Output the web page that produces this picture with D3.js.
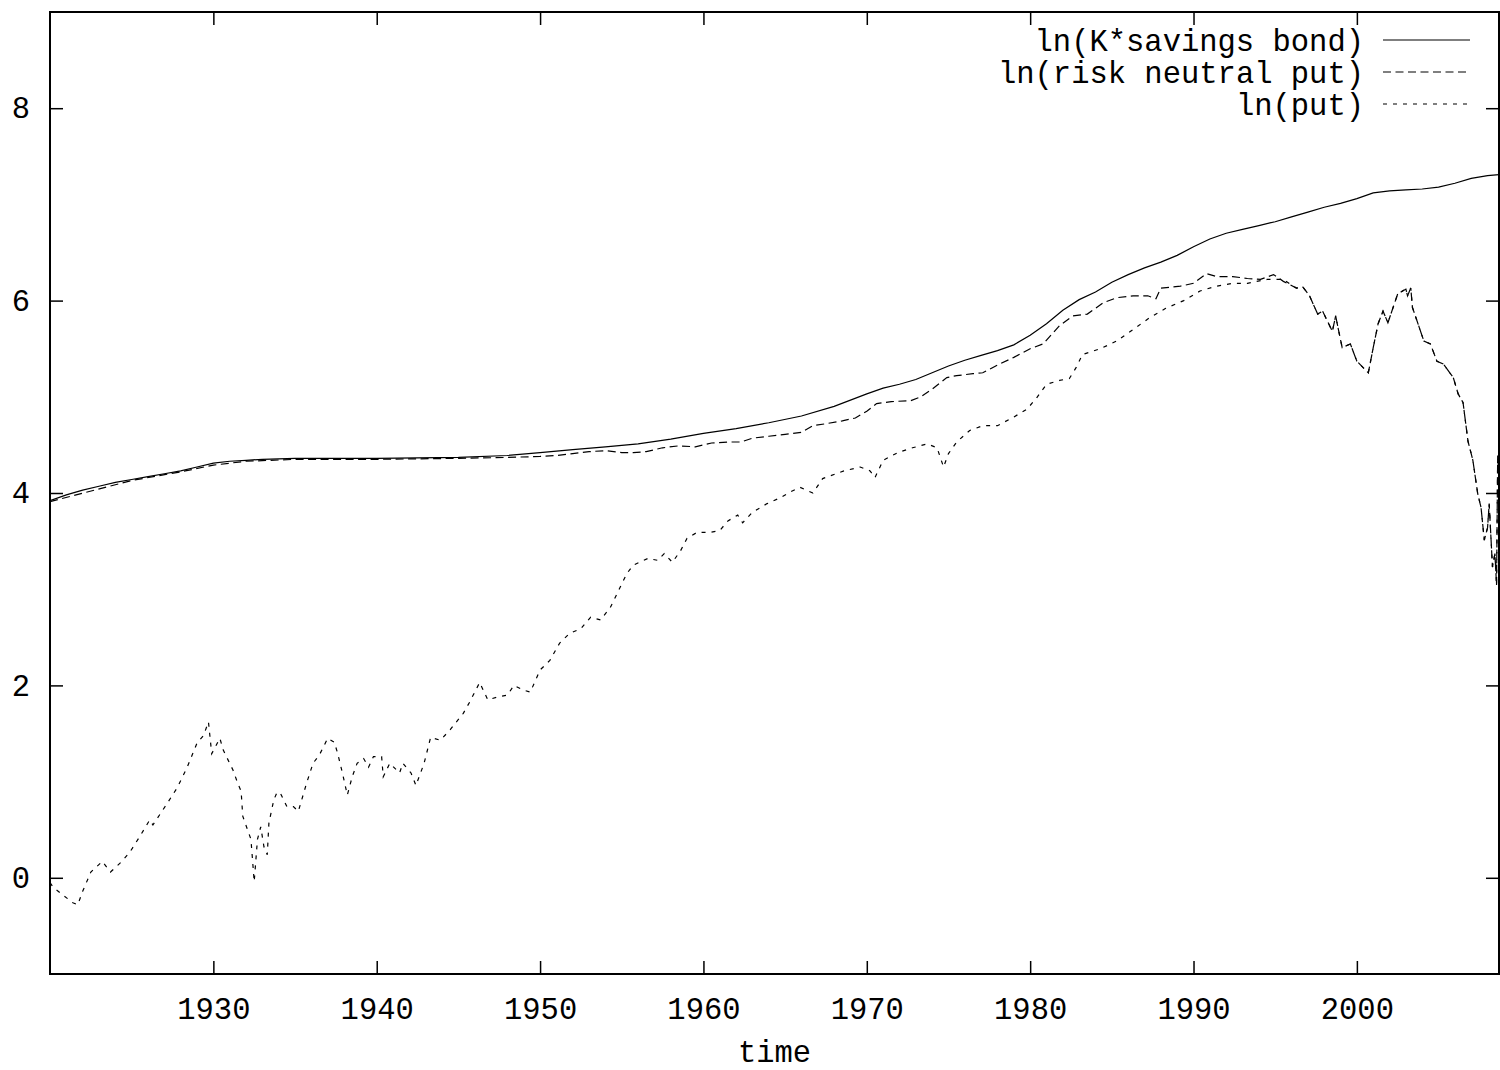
<!DOCTYPE html>
<html>
<head>
<meta charset="utf-8">
<script src="https://cdn.jsdelivr.net/npm/d3@7"></script>
<style>
  html, body { margin: 0; padding: 0; background: #fff; }
  svg { display: block; }
  text { font-family: "Liberation Mono", "DejaVu Sans Mono", monospace; fill: #000; }
</style>
</head>
<body>
<svg id="chart" width="1500" height="1070"></svg>
<script>
// ln(K * savings bond)
const bondYears = [1920.0, 1921, 1922, 1923, 1924, 1925, 1926, 1927, 1928, 1929, 1930, 1931, 1932, 1933, 1935, 1940, 1945, 1948, 1950, 1952, 1954, 1956, 1958, 1960, 1962, 1964, 1966, 1968, 1970, 1971, 1972, 1973, 1974, 1975, 1976, 1977, 1978, 1979, 1980, 1981, 1982, 1983, 1984, 1985, 1986, 1987, 1988, 1989, 1990, 1991, 1992, 1993, 1994, 1995, 1996, 1997, 1998, 1999, 2000, 2001, 2002, 2003, 2004, 2005, 2006, 2007, 2008, 2008.7];
const bondLn    = [3.92, 3.98, 4.03, 4.07, 4.11, 4.14, 4.17, 4.20, 4.23, 4.27, 4.31, 4.33, 4.34, 4.35, 4.36, 4.36, 4.37, 4.39, 4.42, 4.45, 4.48, 4.51, 4.56, 4.62, 4.67, 4.73, 4.80, 4.90, 5.03, 5.09, 5.13, 5.18, 5.25, 5.32, 5.38, 5.43, 5.48, 5.54, 5.64, 5.76, 5.90, 6.01, 6.09, 6.19, 6.27, 6.34, 6.40, 6.47, 6.56, 6.64, 6.70, 6.74, 6.78, 6.82, 6.87, 6.92, 6.97, 7.01, 7.06, 7.12, 7.14, 7.15, 7.16, 7.18, 7.22, 7.27, 7.30, 7.31];

// ln(risk neutral put), up to mid-1995
const rnYears = [1920.0, 1925, 1928, 1930, 1932, 1935, 1940, 1945, 1948, 1950, 1951, 1952, 1953, 1954, 1955, 1955.7, 1956.5, 1957.5, 1958.5, 1959.5, 1960.5, 1961.5, 1962.3, 1963, 1964, 1965, 1966, 1966.7, 1967.5, 1968.5, 1969.3, 1970, 1970.6, 1971.5, 1972.7, 1973.3, 1974, 1974.9, 1975.5, 1976.5, 1977.1, 1978, 1979, 1980, 1980.8, 1981.8, 1982.6, 1983.5, 1984.5, 1985.3, 1986.3, 1987.2, 1987.7, 1988.0, 1989.2, 1990.0, 1990.8, 1991.4, 1992.4, 1993.3, 1994.1, 1994.9, 1995.5];
const rnLn    = [3.91, 4.13, 4.22, 4.29, 4.33, 4.35, 4.35, 4.36, 4.37, 4.38, 4.39, 4.41, 4.43, 4.44, 4.42, 4.42, 4.43, 4.47, 4.49, 4.48, 4.52, 4.53, 4.53, 4.57, 4.59, 4.61, 4.63, 4.70, 4.72, 4.75, 4.78, 4.85, 4.93, 4.95, 4.96, 5.00, 5.08, 5.20, 5.22, 5.24, 5.25, 5.33, 5.41, 5.50, 5.55, 5.74, 5.84, 5.86, 5.98, 6.03, 6.05, 6.05, 6.02, 6.13, 6.15, 6.18, 6.28, 6.25, 6.25, 6.23, 6.22, 6.27, 6.20];

// ln(put), up to mid-1995
const putYears = [1920.0, 1920.2, 1920.8, 1921.4, 1921.7, 1922.0, 1922.5, 1923.2, 1923.7, 1924.4, 1924.9, 1925.5, 1926.1, 1926.3, 1927.2, 1927.8, 1928.4, 1929.0, 1929.4, 1929.7, 1929.9, 1930.4, 1930.6, 1931.2, 1931.5, 1931.7, 1931.8, 1932.3, 1932.5, 1932.7, 1932.9, 1933.1, 1933.3, 1933.4, 1933.7, 1933.9, 1934.1, 1934.5, 1934.9, 1935.2, 1935.7, 1936.1, 1936.5, 1937.0, 1937.4, 1937.6, 1937.9, 1938.2, 1938.5, 1938.8, 1939.2, 1939.5, 1939.8, 1940.3, 1940.4, 1940.8, 1941.4, 1941.6, 1942.1, 1942.4, 1942.9, 1943.3, 1943.9, 1944.5, 1945.3, 1945.7, 1946.3, 1946.8, 1947.4, 1948.0, 1948.4, 1949.0, 1949.4, 1950.0, 1950.6, 1951.2, 1951.8, 1952.5, 1953.1, 1953.7, 1954.3, 1954.9, 1955.3, 1955.7, 1956.6, 1957.2, 1957.6, 1958.1, 1958.6, 1959.0, 1959.6, 1960.4, 1961.0, 1961.5, 1962.1, 1962.4, 1963.0, 1963.9, 1964.7, 1965.3, 1965.9, 1966.7, 1967.3, 1968.6, 1969.6, 1970.2, 1970.5, 1971.0, 1971.9, 1972.8, 1973.7, 1974.3, 1974.7, 1975.0, 1975.5, 1976.3, 1977.1, 1978.0, 1979.0, 1979.8, 1980.4, 1981.0, 1981.8, 1982.4, 1982.8, 1983.2, 1984.3, 1985.3, 1986.3, 1987.3, 1988.3, 1989.4, 1990.4, 1991.4, 1992.4, 1993.3, 1994.5, 1995.5];
const putLn    = [-0.05, -0.10, -0.18, -0.26, -0.28, -0.14, 0.06, 0.17, 0.06, 0.17, 0.27, 0.43, 0.60, 0.55, 0.78, 0.94, 1.15, 1.40, 1.48, 1.62, 1.29, 1.45, 1.33, 1.12, 0.98, 0.90, 0.64, 0.40, -0.04, 0.40, 0.53, 0.32, 0.24, 0.57, 0.81, 0.89, 0.88, 0.74, 0.74, 0.69, 0.98, 1.19, 1.28, 1.45, 1.41, 1.30, 1.09, 0.86, 1.05, 1.19, 1.24, 1.15, 1.26, 1.26, 1.05, 1.19, 1.09, 1.19, 1.09, 0.96, 1.19, 1.46, 1.43, 1.54, 1.71, 1.83, 2.03, 1.85, 1.88, 1.90, 2.00, 1.95, 1.93, 2.16, 2.26, 2.44, 2.54, 2.59, 2.71, 2.68, 2.81, 3.02, 3.16, 3.25, 3.32, 3.30, 3.37, 3.28, 3.40, 3.53, 3.59, 3.59, 3.61, 3.71, 3.77, 3.69, 3.80, 3.89, 3.95, 4.01, 4.06, 4.00, 4.15, 4.23, 4.27, 4.23, 4.16, 4.34, 4.42, 4.47, 4.51, 4.47, 4.27, 4.41, 4.53, 4.65, 4.70, 4.70, 4.79, 4.87, 4.99, 5.13, 5.17, 5.19, 5.30, 5.44, 5.50, 5.58, 5.70, 5.82, 5.92, 6.00, 6.10, 6.15, 6.18, 6.18, 6.22, 6.22];

// From late 1995 on, the two put series coincide
const tailYears = [1996.3, 1996.7, 1997.1, 1997.6, 1997.9, 1998.5, 1998.7, 1999.1, 1999.6, 2000.0, 2000.4, 2000.7, 2001.0, 2001.3, 2001.6, 2001.9, 2002.5, 2003.0, 2003.1, 2003.3, 2003.4, 2004.1, 2004.5, 2004.9, 2005.3, 2005.9, 2006.2, 2006.5, 2006.8, 2007.1, 2007.4, 2007.6, 2007.8, 2008.0, 2008.1, 2008.3, 2008.45, 2008.55, 2008.62];
const tailLn    = [6.13, 6.14, 6.05, 5.86, 5.89, 5.68, 5.84, 5.51, 5.55, 5.37, 5.30, 5.25, 5.51, 5.76, 5.89, 5.77, 6.07, 6.12, 6.05, 6.13, 5.93, 5.58, 5.55, 5.37, 5.34, 5.20, 5.03, 4.94, 4.54, 4.34, 3.99, 3.85, 3.51, 3.64, 3.89, 3.23, 3.37, 3.04, 4.39];

const xTicks = [1930, 1940, 1950, 1960, 1970, 1980, 1990, 2000];
const yTicks = [0, 2, 4, 6, 8];

const legendLabels = ["ln(K*savings bond)", "ln(risk neutral put)", "ln(put)"];
const dashes = [null, "8,4.5", "4,6"];

const zip = (xs, ys) => xs.map((v, i) => [v, ys[i]]);
const series = [
  zip(bondYears, bondLn),
  zip(rnYears.concat(tailYears), rnLn.concat(tailLn)),
  zip(putYears.concat(tailYears), putLn.concat(tailLn))
];

const svg = d3.select("#chart");
const frameL = 50, frameR = 1499, frameT = 12, frameB = 974;

const xScale = d3.scaleLinear().domain([1920, 2008.7]).range([frameL, frameR]);
const yScale = d3.scaleLinear().domain([-1, 9]).range([frameB, frameT]);

const fontSize = 30.5;
const tickLen = 13;

// plotted curves, clipped to the frame
svg.append("clipPath").attr("id", "frame")
  .append("rect").attr("x", frameL).attr("y", frameT)
  .attr("width", frameR - frameL).attr("height", frameB - frameT);

const line = d3.line().x(d => xScale(d[0])).y(d => yScale(d[1]));

const plot = svg.append("g").attr("clip-path", "url(#frame)");
series.forEach((s, i) => {
  plot.append("path")
    .datum(s)
    .attr("d", line)
    .attr("fill", "none")
    .attr("stroke", "#000")
    .attr("stroke-width", 1.2)
    .attr("stroke-dasharray", dashes[i]);
});

// axes with inward ticks on all four sides
const axisStyle = g => {
  g.select(".domain").remove();
  g.selectAll(".tick line").attr("stroke", "#000").attr("stroke-width", 1.5);
  g.selectAll(".tick text")
    .style("font-family", '"Liberation Mono", "DejaVu Sans Mono", monospace')
    .style("font-size", fontSize + "px")
    .attr("fill", "#000");
};

svg.append("g")
  .attr("transform", `translate(0,${frameB})`)
  .call(d3.axisBottom(xScale).tickValues(xTicks).tickFormat(d3.format("d"))
    .tickSizeInner(-tickLen).tickSizeOuter(0).tickPadding(23))
  .call(axisStyle);

svg.append("g")
  .attr("transform", `translate(0,${frameT})`)
  .call(d3.axisTop(xScale).tickValues(xTicks).tickFormat("")
    .tickSizeInner(-tickLen).tickSizeOuter(0))
  .call(axisStyle);

svg.append("g")
  .attr("transform", `translate(${frameL},0)`)
  .call(d3.axisLeft(yScale).tickValues(yTicks).tickFormat(d3.format("d"))
    .tickSizeInner(-tickLen).tickSizeOuter(0).tickPadding(20))
  .call(axisStyle);

svg.append("g")
  .attr("transform", `translate(${frameR},0)`)
  .call(d3.axisRight(yScale).tickValues(yTicks).tickFormat("")
    .tickSizeInner(-tickLen).tickSizeOuter(0))
  .call(axisStyle);

// frame
svg.append("rect")
  .attr("x", frameL).attr("y", frameT)
  .attr("width", frameR - frameL).attr("height", frameB - frameT)
  .attr("fill", "none").attr("stroke", "#000").attr("stroke-width", 2);

// axis title
svg.append("text")
  .attr("x", (frameL + frameR) / 2).attr("y", 1062)
  .attr("text-anchor", "middle")
  .style("font-size", fontSize + "px")
  .text("time");

// key
const keyTextRight = 1364, keySampleX0 = 1383, keySampleX1 = 1470;
const keyRowY = [40, 72, 104];
legendLabels.forEach((lab, i) => {
  svg.append("text")
    .attr("x", keyTextRight).attr("y", keyRowY[i])
    .attr("dy", "0.35em")
    .attr("text-anchor", "end")
    .style("font-size", fontSize + "px")
    .text(lab);
  svg.append("line")
    .attr("x1", keySampleX0).attr("x2", keySampleX1)
    .attr("y1", keyRowY[i]).attr("y2", keyRowY[i])
    .attr("stroke", "#000").attr("stroke-width", 1.2)
    .attr("stroke-dasharray", dashes[i]);
});
</script>
</body>
</html>
